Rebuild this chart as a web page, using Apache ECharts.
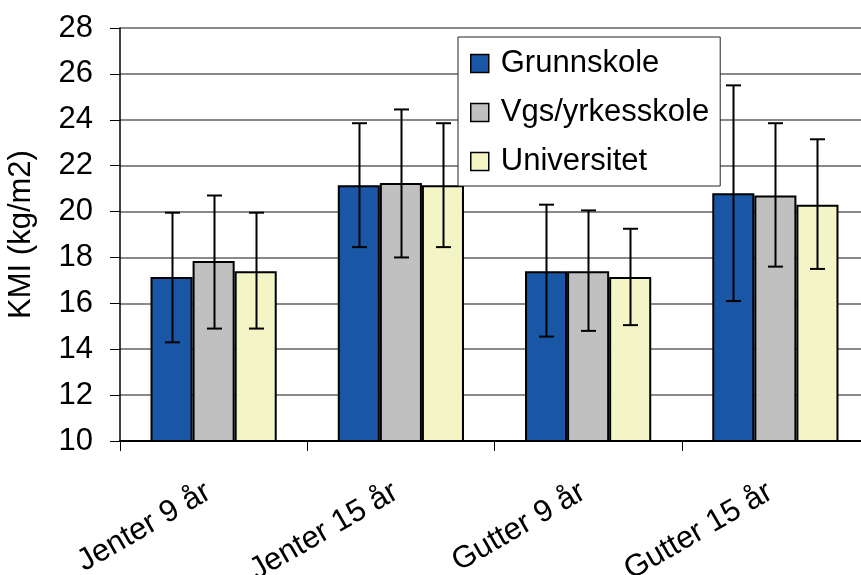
<!DOCTYPE html>
<html>
<head>
<meta charset="utf-8">
<script src="https://cdn.jsdelivr.net/npm/echarts@6/dist/echarts.min.js"></script>
<style>
html,body{margin:0;padding:0;background:#fff;}
#chart{width:861px;height:575px;}
</style>
</head>
<body>
<div id="chart"></div>
<script>
var categories = ['Jenter 9 år', 'Jenter 15 år', 'Gutter 9 år', 'Gutter 15 år'];
var seriesNames = ['Grunnskole', 'Vgs/yrkesskole', 'Universitet'];
var grunnskole = [17.15, 21.15, 17.4, 20.8];
var grunnskoleLow = [14.3, 18.45, 14.55, 16.1];
var grunnskoleHigh = [19.95, 23.85, 20.3, 25.5];
var vgs = [17.85, 21.25, 17.4, 20.7];
var vgsLow = [14.9, 18.0, 14.8, 17.6];
var vgsHigh = [20.7, 24.45, 20.05, 23.85];
var universitet = [17.4, 21.15, 17.15, 20.3];
var universitetLow = [14.9, 18.45, 15.05, 17.5];
var universitetHigh = [19.95, 23.85, 19.25, 23.15];
var yTicks = {min: 10, max: 28, interval: 2};

var colors = ['#1A56A6', '#C0C0C0', '#F3F5C7'];
var FONT = '"Liberation Sans", Arial, sans-serif';
var CAT_GAP = 0.326;

var values = [grunnskole, vgs, universitet];
var lows = [grunnskoleLow, vgsLow, universitetLow];
var highs = [grunnskoleHigh, vgsHigh, universitetHigh];

var series = [];
values.forEach(function (vals, k) {
  series.push({
    name: seriesNames[k],
    type: 'bar',
    data: vals,
    barGap: '0%',
    barCategoryGap: (CAT_GAP * 100) + '%',
    itemStyle: {color: colors[k], borderColor: '#000', borderWidth: 2},
    z: 2
  });
});
values.forEach(function (vals, k) {
  var d = categories.map(function (c, i) { return [i, lows[k][i], highs[k][i]]; });
  series.push({
    type: 'custom',
    name: 'err' + k,
    z: 5,
    silent: true,
    data: d,
    renderItem: function (params, api) {
      var ci = api.value(0);
      var lo = api.coord([ci, api.value(1)]);
      var hi = api.coord([ci, api.value(2)]);
      var band = api.size([1, 0])[0];
      var bw = band * (1 - CAT_GAP) / 3;
      var x = Math.round(lo[0] + (k - 1) * bw) + 0.5;
      var cap = 7.5;
      var st = {stroke: '#000', lineWidth: 2};
      return {
        type: 'group',
        children: [
          {type: 'line', shape: {x1: x, y1: lo[1], x2: x, y2: hi[1]}, style: st},
          {type: 'line', shape: {x1: x - cap, y1: lo[1], x2: x + cap, y2: lo[1]}, style: st},
          {type: 'line', shape: {x1: x - cap, y1: hi[1], x2: x + cap, y2: hi[1]}, style: st}
        ]
      };
    }
  });
});

var chart = echarts.init(document.getElementById('chart'));
chart.setOption({
  animation: false,
  backgroundColor: '#fff',
  textStyle: {fontFamily: FONT},
  grid: {left: 120, right: -8, top: 28, bottom: 134, containLabel: false, outerBoundsMode: 'none'},
  legend: {
    data: seriesNames,
    orient: 'vertical',
    left: 458,
    top: 37,
    padding: [11, 11, 9, 12],
    itemWidth: 18,
    itemHeight: 18,
    itemGap: 18,
    backgroundColor: '#fff',
    borderColor: '#222',
    borderWidth: 1,
    icon: 'rect',
    itemStyle: {borderColor: '#000', borderWidth: 1.5},
    textStyle: {fontSize: 31, color: '#000', fontFamily: FONT, lineHeight: 30, padding: [0, 0, 0, 7]}
  },
  xAxis: {
    type: 'category',
    data: categories,
    axisLine: {lineStyle: {color: '#000', width: 2}},
    axisTick: {show: true, length: 10, lineStyle: {color: '#000', width: 1}},
    axisLabel: {rotate: 30, fontSize: 31, color: '#000', fontFamily: FONT, margin: 46, padding: [0, 6, 0, 0]},
    splitLine: {show: false}
  },
  yAxis: {
    type: 'value',
    min: yTicks.min,
    max: yTicks.max,
    interval: yTicks.interval,
    name: 'KMI (kg/m2)',
    nameLocation: 'middle',
    nameGap: 83,
    nameTextStyle: {fontSize: 31, color: '#000', fontFamily: FONT},
    axisLine: {show: true, lineStyle: {color: '#000', width: 1.5}},
    axisTick: {show: true, length: 10, lineStyle: {color: '#000', width: 1}},
    axisLabel: {fontSize: 31, color: '#000', fontFamily: FONT, margin: 27},
    splitLine: {show: true, lineStyle: {color: '#8a8a8a', width: 2}}
  },
  series: series
});
</script>
</body>
</html>
